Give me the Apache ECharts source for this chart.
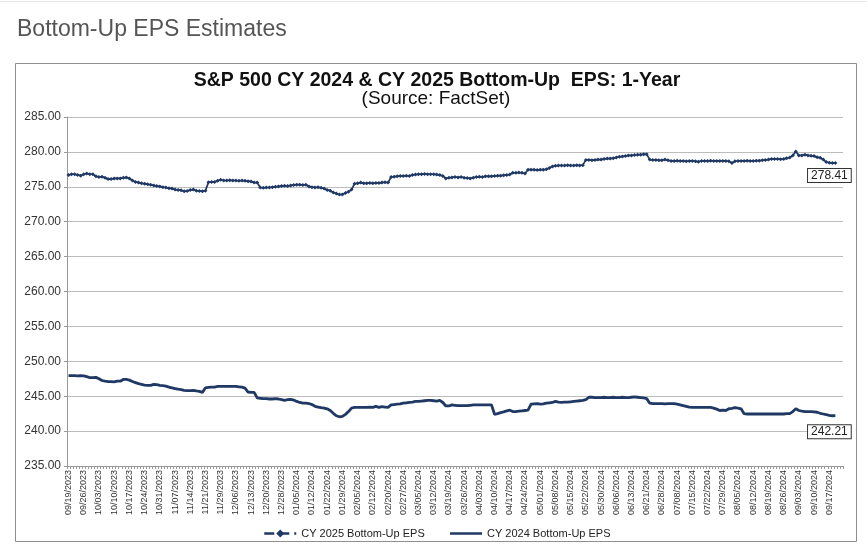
<!DOCTYPE html>
<html>
<head>
<meta charset="utf-8">
<script src="https://cdn.jsdelivr.net/npm/echarts@6/dist/echarts.min.js"></script>
<style>
html,body{margin:0;padding:0;background:#fff;}
#chart{width:867px;height:556px;}
</style>
</head>
<body>
<div id="chart"></div>
<script>
// Trading-day calendar: first date, market holidays skipped
const startDate = '2023-09-19';
const holidays = ['2023-11-23','2023-12-25','2024-01-01','2024-01-15','2024-02-19','2024-03-29','2024-05-27','2024-06-19','2024-07-04','2024-09-02'];
const categoryCount = 255;

const seriesNames = ['CY 2025 Bottom-Up EPS', 'CY 2024 Bottom-Up EPS'];

const cy2025 = [
276.7,276.8,276.8,276.7,276.6, 276.8,276.9,276.8,276.8,276.5,
276.4,276.45,276.3,276.1,276.1, 276.2,276.2,276.2,276.3,276.35,
276.2,275.9,275.7,275.6,275.5, 275.45,275.35,275.3,275.2,275.1,
275.05,274.95,274.9,274.8,274.75, 274.6,274.55,274.5,274.35,274.4,
274.55,274.6,274.45,274.4,274.35, 274.45,275.65,275.7,275.7,275.85,
276.0,275.9,275.9,275.95,275.9, 275.9,275.85,275.9,275.85,275.8,
275.75,275.6,275.6,274.9,274.85, 274.9,274.9,274.95,275.0,275.05,
275.1,275.15,275.1,275.2,275.25, 275.3,275.3,275.25,275.3,275.05,
274.95,274.9,274.95,274.85,274.75, 274.55,274.45,274.2,274.05,273.9,
273.9,274.1,274.3,274.6,275.45, 275.5,275.6,275.5,275.5,275.55,
275.5,275.55,275.55,275.6,275.65, 275.6,276.4,276.45,276.5,276.55,
276.55,276.6,276.55,276.7,276.75, 276.8,276.8,276.85,276.8,276.8,
276.8,276.75,276.7,276.55,276.2, 276.3,276.35,276.4,276.35,276.4,
276.3,276.25,276.2,276.3,276.4, 276.45,276.4,276.5,276.5,276.5,
276.55,276.6,276.6,276.65,276.7, 276.75,277.0,277.0,277.05,277.0,
276.9,277.45,277.45,277.45,277.4, 277.45,277.45,277.5,277.7,277.9,
278.0,278.05,278.05,278.05,278.1, 278.05,278.05,278.1,278.05,278.1,
278.85,278.85,278.8,278.85,278.9, 278.9,279.0,279.05,279.05,279.1,
279.2,279.3,279.35,279.4,279.5, 279.5,279.55,279.6,279.6,279.65,
279.65,278.9,278.85,278.85,278.8, 278.8,278.9,278.8,278.7,278.7,
278.75,278.7,278.7,278.65,278.7, 278.7,278.65,278.6,278.7,278.7,
278.7,278.75,278.7,278.7,278.7, 278.7,278.7,278.65,278.4,278.65,
278.7,278.7,278.7,278.75,278.7, 278.7,278.75,278.75,278.8,278.85,
278.9,279.0,279.0,279.0,278.95, 279.0,279.1,279.2,279.5,280.05,
279.5,279.5,279.6,279.5,279.45, 279.4,279.25,279.15,278.9,278.55,
278.45,278.4,278.41
];

const cy2024 = [
247.95,247.95,247.95,247.9,247.95, 247.9,247.8,247.65,247.65,247.7,
247.5,247.25,247.15,247.1,247.1, 247.05,247.15,247.15,247.4,247.4,
247.3,247.1,246.95,246.8,246.7, 246.6,246.55,246.55,246.7,246.65,
246.55,246.5,246.45,246.3,246.2, 246.1,246.0,245.95,245.85,245.8,
245.8,245.85,245.75,245.7,245.55, 246.2,246.25,246.3,246.3,246.4,
246.4,246.4,246.4,246.4,246.4, 246.4,246.35,246.3,246.15,245.6,
245.55,245.55,244.75,244.7,244.65, 244.65,244.6,244.6,244.65,244.6,
244.5,244.4,244.5,244.55,244.45, 244.25,244.1,244.0,244.0,243.95,
243.8,243.55,243.45,243.35,243.3, 243.2,242.95,242.55,242.2,242.05,
242.1,242.4,242.8,243.3,243.4, 243.4,243.4,243.4,243.4,243.45,
243.4,243.55,243.4,243.5,243.45, 243.4,243.75,243.8,243.85,243.9,
244.0,244.05,244.1,244.15,244.25, 244.25,244.3,244.35,244.4,244.4,
244.35,244.3,244.4,244.1,243.6, 243.6,243.75,243.7,243.65,243.65,
243.65,243.65,243.7,243.75,243.75, 243.75,243.75,243.75,243.75,243.75,
242.4,242.5,242.65,242.75,242.9, 243.0,242.8,242.8,242.85,242.9,
242.95,243.0,243.85,243.9,243.95, 243.85,243.9,244.0,244.05,244.1,
244.25,244.15,244.1,244.15,244.15, 244.2,244.25,244.3,244.35,244.4,
244.5,244.85,244.85,244.8,244.8, 244.8,244.85,244.8,244.8,244.85,
244.8,244.8,244.85,244.8,244.8, 244.85,244.9,244.85,244.8,244.75,
244.65,244.0,243.95,243.95,243.95, 243.95,243.9,243.95,243.95,243.95,
243.85,243.75,243.65,243.55,243.45, 243.4,243.4,243.4,243.4,243.4,
243.4,243.4,243.3,243.15,242.95, 243.0,242.95,243.2,243.25,243.35,
243.3,243.2,242.5,242.45,242.45, 242.45,242.45,242.45,242.45,242.45,
242.45,242.45,242.45,242.45,242.45, 242.45,242.5,242.5,242.8,243.2,
242.95,242.85,242.8,242.8,242.8, 242.75,242.7,242.55,242.45,242.35,
242.25,242.2,242.21
];

const yMin = 235, yMax = 285, yStep = 5;

// build trading-day category labels
function pad(n){return n<10?'0'+n:''+n;}
const categories = [];
(function(){
  const d = new Date(startDate + 'T00:00:00Z');
  while (categories.length < categoryCount) {
    const iso = d.toISOString().slice(0,10);
    const dow = d.getUTCDay();
    if (dow !== 0 && dow !== 6 && holidays.indexOf(iso) < 0) {
      categories.push(pad(d.getUTCMonth()+1) + '/' + pad(d.getUTCDate()) + '/' + d.getUTCFullYear());
    }
    d.setUTCDate(d.getUTCDate()+1);
  }
})();

const FONT = '"Liberation Sans", Arial, Helvetica, sans-serif';
const LINE = '#1F3864';

function withEndLabel(arr, dist) {
  return arr.map(function(v, i){
    if (i !== arr.length - 1) return v;
    return {
      value: v,
      label: {
        show: true, position: 'bottom', distance: dist, offset: [-6, 0],
        formatter: function(p){ return p.value.toFixed(2); },
        fontFamily: FONT, fontSize: 12, color: '#222', opacity: 1,
        backgroundColor: '#fff', borderColor: '#333', borderWidth: 1,
        padding: [1, 3, 0, 3]
      }
    };
  });
}

const chart = echarts.init(document.getElementById('chart'), null, {renderer: 'canvas'});
chart.setOption({
  animation: false,
  backgroundColor: '#fff',
  textStyle: {fontFamily: FONT},
  graphic: [
    {type: 'line', shape: {x1: 0, y1: 1.5, x2: 867, y2: 1.5}, style: {stroke: '#e6e6e6', lineWidth: 1}},
    {type: 'text', x: 17, y: 30, style: {text: 'Bottom-Up EPS Estimates', fontFamily: FONT, fontSize: 23, fill: '#555',
      textVerticalAlign: 'middle', verticalAlign: 'middle'}},
    {type: 'rect', shape: {x: 15.5, y: 63.5, width: 841, height: 478}, style: {fill: 'none', stroke: '#8f8f8f', lineWidth: 1}, silent: true},
    {type: 'text', x: 437, y: 80.5, style: {text: 'S&P 500 CY 2024 & CY 2025 Bottom-Up  EPS: 1-Year', fontFamily: FONT, fontSize: 19.5, fontWeight: 'bold', fill: '#111',
      textAlign: 'center', align: 'center', textVerticalAlign: 'middle', verticalAlign: 'middle'}},
    {type: 'text', x: 436, y: 99, style: {text: '(Source: FactSet)', fontFamily: FONT, fontSize: 19, fill: '#111',
      textAlign: 'center', align: 'center', textVerticalAlign: 'middle', verticalAlign: 'middle'}}
  ],
  grid: {left: 67, right: 24, top: 117, bottom: 90, containLabel: false},
  legend: {
    left: 258, top: 523, itemWidth: 32, itemHeight: 10, itemGap: 24,
    textStyle: {fontFamily: FONT, fontSize: 11, color: '#222'},
    data: [
      {name: seriesNames[0], lineStyle: {type: 'dashed', width: 2.5}},
      {name: seriesNames[1], lineStyle: {width: 2.5}, itemStyle: {opacity: 0}}
    ]
  },
  xAxis: {
    type: 'category', data: categories, boundaryGap: true,
    axisLine: {lineStyle: {color: '#999', width: 1}},
    axisTick: {show: true, interval: 0, length: 3, lineStyle: {color: '#999'}},
    axisLabel: {interval: 4, rotate: 90, fontSize: 9, color: '#333', margin: 4, fontFamily: FONT},
    splitLine: {show: false}
  },
  yAxis: {
    type: 'value', min: yMin, max: yMax, interval: yStep,
    axisLine: {show: true, lineStyle: {color: '#999'}},
    axisTick: {show: true, length: 3, lineStyle: {color: '#999'}},
    axisLabel: {fontSize: 12, color: '#333', margin: 6, fontFamily: FONT, formatter: function(v){return v.toFixed(2);}},
    splitLine: {show: true, lineStyle: {color: '#bcbcbc', width: 1}}
  },
  series: [
    {
      name: seriesNames[0], type: 'line', data: withEndLabel(cy2025, 4),
      symbol: 'diamond', symbolSize: 4, showSymbol: true, showAllSymbol: true,
      lineStyle: {color: LINE, width: 1.7}, itemStyle: {color: LINE},
      z: 3
    },
    {
      name: seriesNames[1], type: 'line', data: withEndLabel(cy2024, 9),
      symbol: 'circle', symbolSize: 1, showSymbol: true, showAllSymbol: true,
      lineStyle: {color: LINE, width: 2.8}, itemStyle: {color: LINE, opacity: 0},
      z: 3
    }
  ]
});
</script>
</body>
</html>
